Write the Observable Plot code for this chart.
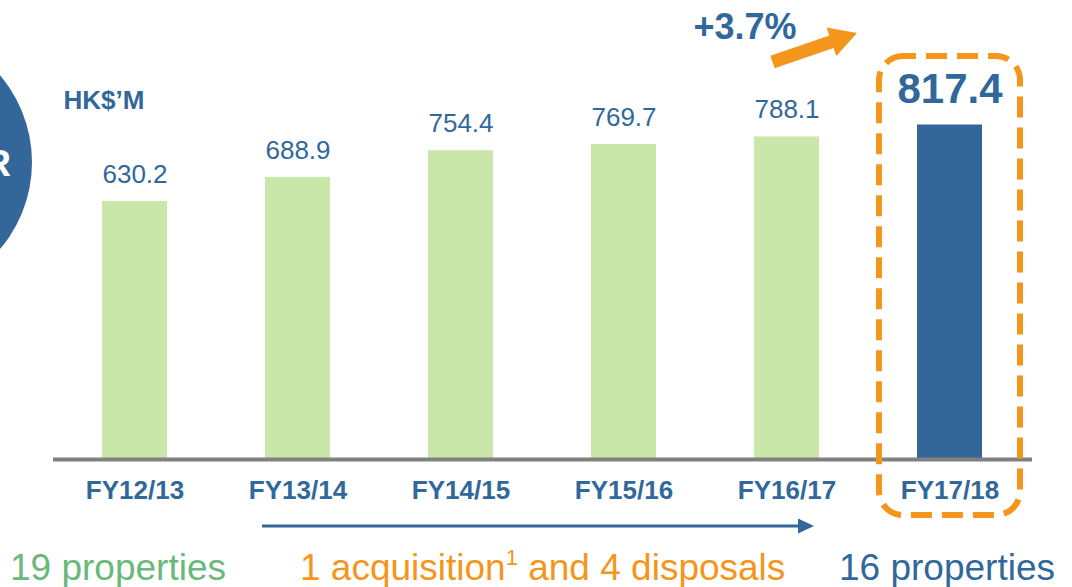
<!DOCTYPE html>
<html><head><meta charset="utf-8">
<script src="https://cdn.jsdelivr.net/npm/d3@7"></script>
<script src="https://cdn.jsdelivr.net/npm/@observablehq/plot@0.6"></script>
<style>html,body{margin:0;padding:0;background:#fff;overflow:hidden} #chart svg{display:block}</style>
</head><body><div id="chart"></div>
<script>
// ---- data ----
const years = ["FY12/13", "FY13/14", "FY14/15", "FY15/16", "FY16/17", "FY17/18"];
const revenue = [630.2, 688.9, 754.4, 769.7, 788.1, 817.4];
const highlight = [false, false, false, false, false, true];
const unitLabel = "HK$’M";
const growthLabel = "+3.7%";
const footBefore = "19 properties";
const footChangeA = "1 acquisition";
const footChangeSup = "1";
const footChangeB = " and 4 disposals";
const footAfter = "16 properties";
const badgeText = "CAGR";

const data = years.map((y, i) => ({year: y, value: revenue[i], hi: highlight[i]}));

const FONT = "'Liberation Sans', Arial, Helvetica, sans-serif";
const BLUE = "#336699", GREEN_BAR = "#c9e7a9", ORANGE = "#f5961c", GREEN_TXT = "#6ab87b", TXT_BLUE = "#31689b";
const W = 1072, H = 587, ML = 53, MR = 40, MT = 50, MB = 129;

function decorations(index, scales, values, dims) {
  const x = scales.x, y = scales.y;
  const step = (dims.width - dims.marginLeft - dims.marginRight) / (years.length - 0.6 + 0.6);
  const bw = x.bandwidth ? x.bandwidth() : step * 0.4;
  const g = d3.create("svg:g").attr("text-anchor", "start");
  const y0 = y(0), yTop = y(1000);

  // partial badge circle on the left edge
  g.append("circle").attr("cx", dims.marginLeft - 155).attr("cy", y(725)).attr("r", 134).attr("fill", BLUE);
  g.append("text").attr("x", 11).attr("y", y(690)).attr("text-anchor", "end")
    .attr("fill", "#fff").attr("font-family", FONT).attr("font-weight", "bold").attr("font-size", 37).text(badgeText);

  // dashed highlight box around the last bar
  const cx = x(years[5]) + bw / 2;
  g.append("rect").attr("x", cx - 70.5).attr("y", yTop + 6).attr("width", 141).attr("height", (y0 + 57) - (yTop + 6))
    .attr("rx", 24).attr("ry", 24).attr("fill", "none").attr("stroke", ORANGE)
    .attr("stroke-width", 6).attr("stroke-dasharray", "21 10").attr("stroke-dashoffset", 8);

  // orange growth arrow
  const tail = [x(years[4]) + bw / 2 - 14, yTop + 12];
  const tip = [x(years[5]) - 60, yTop - 17];
  const dx = tip[0] - tail[0], dy = tip[1] - tail[1], L = Math.hypot(dx, dy);
  const u = [dx / L, dy / L], n = [-u[1], u[0]];
  const hl = 27, sw = 6.5, hw = 15;
  const neck = [tip[0] - u[0] * hl, tip[1] - u[1] * hl];
  const P = (p, k) => [p[0] + n[0] * k, p[1] + n[1] * k];
  const pts = [P(tail, sw), P(neck, sw), P(neck, hw), tip, P(neck, -hw), P(neck, -sw), P(tail, -sw)];
  g.append("polygon").attr("points", pts.map(p => p.join(",")).join(" ")).attr("fill", ORANGE);

  // blue timeline arrow
  const ax1 = x(years[1]) - 3, ax2 = x(years[4]) + bw - 5, ay = y0 + 68;
  g.append("line").attr("x1", ax1).attr("x2", ax2 - 14).attr("y1", ay).attr("y2", ay)
    .attr("stroke", BLUE).attr("stroke-width", 3);
  g.append("polygon").attr("points", `${ax2},${ay} ${ax2 - 16},${ay - 7.5} ${ax2 - 16},${ay + 7.5}`).attr("fill", BLUE);

  // footnotes
  const fy = y0 + 122;
  g.append("text").attr("x", x(years[0]) - 92).attr("y", fy).attr("fill", GREEN_TXT).attr("text-anchor", "start")
    .attr("font-family", FONT).attr("font-size", 37).text(footBefore);
  const t = g.append("text").attr("x", x(years[1]) + 35).attr("y", fy).attr("fill", ORANGE).attr("text-anchor", "start")
    .attr("font-family", FONT).attr("font-size", 37);
  t.append("tspan").text(footChangeA);
  t.append("tspan").attr("font-size", 22).attr("dy", -15).text(footChangeSup);
  t.append("tspan").attr("dy", 15).text(footChangeB);
  g.append("text").attr("x", x(years[5]) - 78).attr("y", fy).attr("fill", TXT_BLUE).attr("text-anchor", "start")
    .attr("font-family", FONT).attr("font-size", 37).text(footAfter);
  return g.node();
}

const chart = Plot.plot({
  width: W, height: H,
  marginLeft: ML, marginRight: MR, marginTop: MT, marginBottom: MB,
  style: {fontFamily: FONT, background: "#fff", overflow: "visible"},
  x: {domain: years, type: "band", paddingInner: 0.6, paddingOuter: 0.3, axis: null},
  y: {domain: [0, 1000], axis: null},
  marks: [
    Plot.barY(data.filter(d => !d.hi), {x: "year", y: "value", fill: GREEN_BAR}),
    Plot.barY(data.filter(d => d.hi), {x: "year", y: "value", fill: BLUE}),
    Plot.ruleY([0], {stroke: "#808080", strokeWidth: 4, dy: 1}),
    Plot.text(data.filter(d => !d.hi), {x: "year", y: "value", text: d => d.value.toFixed(1), dy: -27, fontSize: 26, fill: TXT_BLUE}),
    Plot.text(data.filter(d => d.hi), {x: "year", y: "value", text: d => d.value.toFixed(1), dy: -35, fontSize: 42, fontWeight: "bold", fill: TXT_BLUE}),
    Plot.text(data, {x: "year", text: "year", frameAnchor: "bottom", lineAnchor: "middle", dy: 32, fontSize: 26, fontWeight: "bold", fill: TXT_BLUE}),
    Plot.text([unitLabel], {frameAnchor: "top-left", lineAnchor: "middle", text: d => d, dx: 10, dy: 50, textAnchor: "start", fontSize: 26, fontWeight: "bold", fill: TXT_BLUE}),
    Plot.text([growthLabel], {x: () => years[4], text: d => d, frameAnchor: "top", lineAnchor: "middle", dx: -42, dy: -23, fontSize: 36, fontWeight: "bold", fill: TXT_BLUE}),
    decorations
  ]
});
document.getElementById("chart").appendChild(chart);
</script>
</body></html>
